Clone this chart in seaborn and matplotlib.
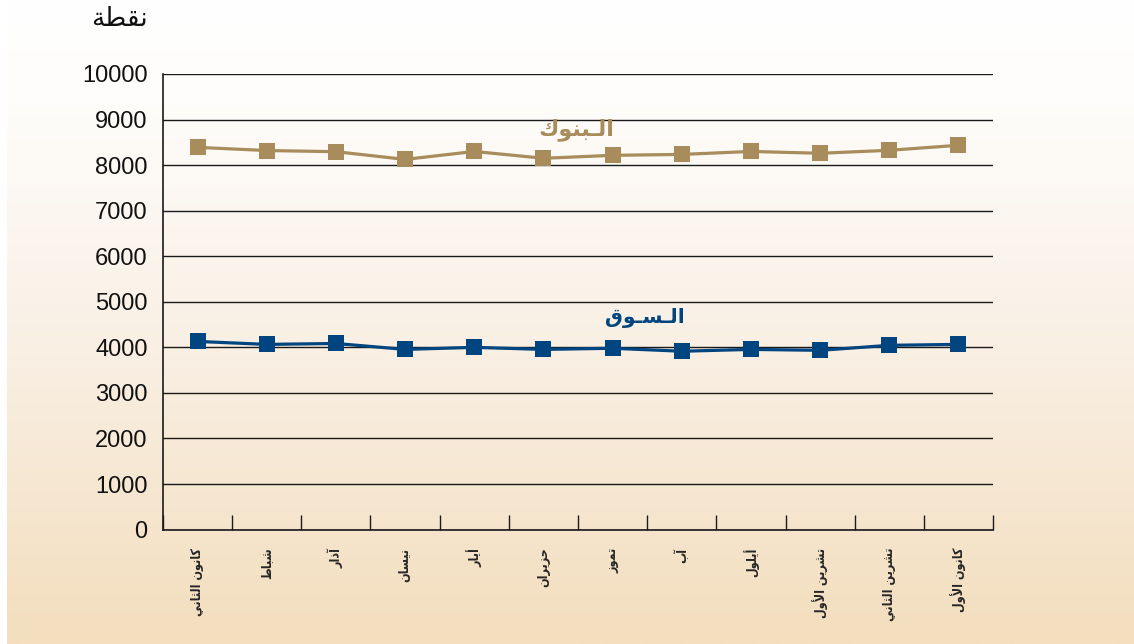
import numpy as np
import pandas as pd
import matplotlib
matplotlib.use("Agg")
import matplotlib.pyplot as plt
import seaborn as sns
from matplotlib.colors import LinearSegmentedColormap
from matplotlib.ticker import FixedLocator

# ---- data ----
months = ["كانون الثاني", "شباط", "آذار", "نيسان", "أيار", "حزيران",
          "تموز", "آب", "أيلول", "تشرين الأول", "تشرين الثاني", "كانون الأول"]
banks = [8390, 8320, 8295, 8125, 8300, 8150, 8215, 8235, 8300, 8260, 8325, 8435]
market = [4130, 4065, 4085, 3955, 4000, 3955, 3980, 3915, 3955, 3935, 4045, 4065]
banks_label = "الـبنوك"
market_label = "الـسـوق"
y_unit = "نقطة"
y_ticks = list(range(0, 10001, 1000))

BANKS_COLOR = "#A88C5C"
MARKET_COLOR = "#00457F"

# ---- minimal Arabic shaping (matplotlib has no shaper) ----
# (isolated, final, initial, medial); right-joining letters have no initial/medial
FORMS = {
    "\u0622": ("\uFE81", "\uFE82", None, None),
    "\u0623": ("\uFE83", "\uFE84", None, None),
    "\u0627": ("\uFE8D", "\uFE8E", None, None),
    "\u0628": ("\uFE8F", "\uFE90", "\uFE91", "\uFE92"),
    "\u0629": ("\uFE93", "\uFE94", None, None),
    "\u062A": ("\uFE95", "\uFE96", "\uFE97", "\uFE98"),
    "\u062B": ("\uFE99", "\uFE9A", "\uFE9B", "\uFE9C"),
    "\u062D": ("\uFEA1", "\uFEA2", "\uFEA3", "\uFEA4"),
    "\u0630": ("\uFEAB", "\uFEAC", None, None),
    "\u0631": ("\uFEAD", "\uFEAE", None, None),
    "\u0632": ("\uFEAF", "\uFEB0", None, None),
    "\u0633": ("\uFEB1", "\uFEB2", "\uFEB3", "\uFEB4"),
    "\u0634": ("\uFEB5", "\uFEB6", "\uFEB7", "\uFEB8"),
    "\u0637": ("\uFEC1", "\uFEC2", "\uFEC3", "\uFEC4"),
    "\u0642": ("\uFED5", "\uFED6", "\uFED7", "\uFED8"),
    "\u0643": ("\uFED9", "\uFEDA", "\uFEDB", "\uFEDC"),
    "\u0644": ("\uFEDD", "\uFEDE", "\uFEDF", "\uFEE0"),
    "\u0645": ("\uFEE1", "\uFEE2", "\uFEE3", "\uFEE4"),
    "\u0646": ("\uFEE5", "\uFEE6", "\uFEE7", "\uFEE8"),
    "\u0648": ("\uFEED", "\uFEEE", None, None),
    "\u064A": ("\uFEF1", "\uFEF2", "\uFEF3", "\uFEF4"),
    "\u0640": ("\u0640", "\u0640", "\u0640", "\u0640"),
    "\u0644\u0622": ("\uFEF5", "\uFEF6", None, None),
    "\u0644\u0623": ("\uFEF7", "\uFEF8", None, None),
    "\u0644\u0627": ("\uFEFB", "\uFEFC", None, None),
}


def shape(text):
    units = []
    i = 0
    while i < len(text):
        if text[i] == "\u0644" and i + 1 < len(text) and text[i:i + 2] in FORMS:
            units.append(text[i:i + 2])
            i += 2
        else:
            units.append(text[i])
            i += 1
    out = []
    for k, u in enumerate(units):
        if u not in FORMS:
            out.append(u)
            continue
        prev_ok = k > 0 and units[k - 1] in FORMS and FORMS[units[k - 1]][2] is not None
        next_ok = (FORMS[u][2] is not None and k + 1 < len(units)
                   and units[k + 1] in FORMS)
        iso, fin, ini, med = FORMS[u]
        if prev_ok and next_ok:
            out.append(med)
        elif prev_ok:
            out.append(fin)
        elif next_ok:
            out.append(ini)
        else:
            out.append(iso)
    return "".join(reversed(out))


sns.set_theme(style="white")
plt.rcParams["font.family"] = ["Liberation Sans", "DejaVu Sans"]

df = pd.DataFrame({"idx": np.arange(len(months)), "banks": banks, "market": market})

fig = plt.figure(figsize=(11.34, 6.44), dpi=100)

# background gradient (white at top to beige at bottom)
bg = fig.add_axes([7 / 1134, 0, 1 - 7 / 1134, 1], zorder=-10)
cmap = LinearSegmentedColormap.from_list(
    "bg", [(0.0, "#F3DEBD"), (0.45, "#F9EFE3"), (0.85, "#FEFDFB"), (1.0, "#FFFFFF")])
bg.imshow(np.linspace(0, 1, 256).reshape(-1, 1), aspect="auto", cmap=cmap,
          origin="lower", extent=[0, 1, 0, 1])
bg.set_axis_off()

ax = fig.add_axes([163 / 1134, 1 - 529.6 / 644, (993 - 163) / 1134, (529.6 - 74) / 644])
ax.set_facecolor("none")

sns.lineplot(data=df, x="idx", y="banks", ax=ax, color=BANKS_COLOR, lw=2.3,
             marker="s", markersize=11.5, markeredgewidth=0, zorder=3)
sns.lineplot(data=df, x="idx", y="market", ax=ax, color=MARKET_COLOR, lw=2.3,
             marker="s", markersize=11.5, markeredgewidth=0, zorder=3)

ax.set_xlim(-0.5, len(months) - 0.5)
ax.set_ylim(0, 10000)
ax.set_yticks(y_ticks)
ax.set_yticklabels([str(t) for t in y_ticks], fontsize=17)
ax.yaxis.grid(True, color="#1a1a1a", lw=1.0)
ax.set_axisbelow(True)
ax.tick_params(axis="y", length=0, pad=11, labelcolor="#111111")

ax.set_xticks(df["idx"])
ax.set_xticklabels([shape(m) for m in months], rotation=90, fontsize=9,
                   family="DejaVu Sans", fontweight="bold", fontstretch="condensed")
ax.xaxis.set_minor_locator(FixedLocator(np.arange(-0.5, len(months), 1.0)))
ax.tick_params(axis="x", which="major", length=0, pad=13)
ax.tick_params(axis="x", which="minor", direction="in", length=11, width=1.0,
               color="#1a1a1a", bottom=True)

for s in ["top", "right"]:
    ax.spines[s].set_visible(False)
for s in ["left", "bottom"]:
    ax.spines[s].set_color("#1a1a1a")
    ax.spines[s].set_linewidth(1.2)

ax.set_xlabel("")
ax.set_ylabel("")

ax.text(5.48, 8770, shape(banks_label), color=BANKS_COLOR, fontsize=16,
        family="DejaVu Sans", fontweight="bold", ha="center", va="center")
ax.text(6.47, 4640, shape(market_label), color=MARKET_COLOR, fontsize=14.5,
        family="DejaVu Sans", fontweight="bold", ha="center", va="center")

fig.text(119 / 1134, 1 - 19 / 644, shape(y_unit), fontsize=19, family="DejaVu Sans",
         ha="center", va="center", color="#111111")

fig.savefig("out.png", dpi=100)
